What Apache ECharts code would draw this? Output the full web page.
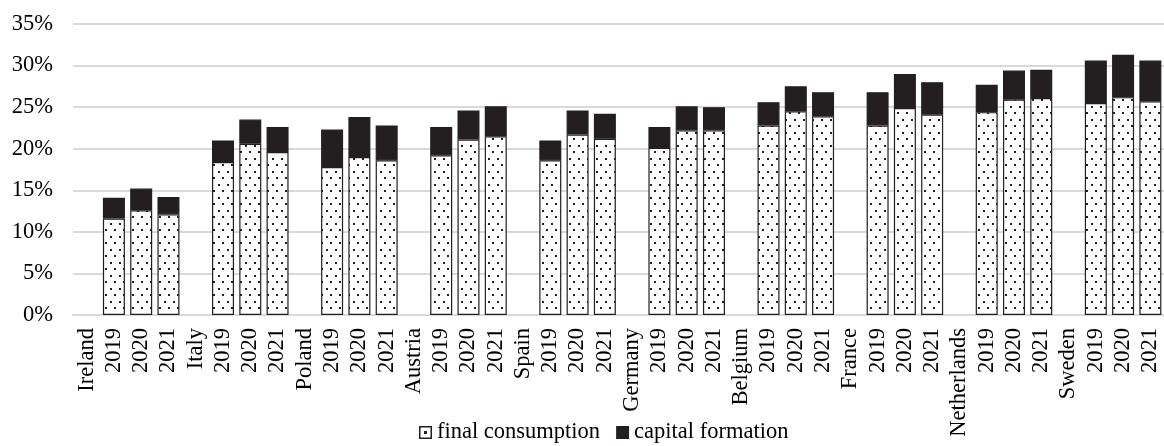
<!DOCTYPE html>
<html>
<head>
    <meta charset="utf-8">
    <title>Final consumption and capital formation</title>
    <script src="https://cdn.jsdelivr.net/npm/echarts@6/dist/echarts.min.js"></script>
</head>
<body style="margin:0">
    <div id="chart" style="width: 1164px; height: 446px;"></div>

    <script>
    // Country header columns carry no bars (null), followed by 2019-2021
    const categories = [
        'Ireland', '2019', '2020', '2021',
        'Italy', '2019', '2020', '2021',
        'Poland', '2019', '2020', '2021',
        'Austria', '2019', '2020', '2021',
        'Spain', '2019', '2020', '2021',
        'Germany', '2019', '2020', '2021',
        'Belgium', '2019', '2020', '2021',
        'France', '2019', '2020', '2021',
        'Netherlands', '2019', '2020', '2021',
        'Sweden', '2019', '2020', '2021'
    ];

    // shares in %
    const finalConsumption = [
        null, 11.6, 12.6, 12.1,
        null, 18.4, 20.6, 19.6,
        null, 17.8, 19.0, 18.6,
        null, 19.2, 21.1, 21.5,
        null, 18.6, 21.7, 21.2,
        null, 20.1, 22.2, 22.2,
        null, 22.8, 24.5, 23.9,
        null, 22.8, 24.9, 24.1,
        null, 24.4, 25.9, 26.1,
        null, 25.5, 26.2, 25.7
    ];

    const capitalFormation = [
        null, 2.5, 2.6, 2.1,
        null, 2.6, 2.9, 3.0,
        null, 4.5, 4.8, 4.2,
        null, 3.4, 3.5, 3.6,
        null, 2.4, 2.9, 3.0,
        null, 2.5, 2.9, 2.8,
        null, 2.8, 3.0, 2.9,
        null, 4.0, 4.1, 3.9,
        null, 3.3, 3.5, 3.4,
        null, 5.1, 5.1, 4.9
    ];

    const yTicks = [0, 5, 10, 15, 20, 25, 30, 35];

    // dotted fill tile
    function dotTile() {
        const c = document.createElement('canvas');
        c.width = 9;
        c.height = 13;
        const ctx = c.getContext('2d');
        ctx.fillStyle = '#ffffff';
        ctx.fillRect(0, 0, 9, 13);
        ctx.fillStyle = '#231f20';
        ctx.fillRect(2, 2, 2, 2);
        ctx.fillRect(6, 8, 2, 2);
        return c;
    }

    const font = '"Liberation Serif", "Times New Roman", serif';
    const fs = 22.5;
    const ink = '#231f20';
    const chart = echarts.init(document.getElementById('chart'));

    const option = {
        animation: false,
        textStyle: { fontFamily: font },
        grid: {
            left: 73,
            right: -5,
            top: 24,
            bottom: 131
        },
        legend: {
            left: 414,
            top: 416,
            itemWidth: 13,
            itemHeight: 13,
            itemGap: 16,
            textStyle: { fontFamily: font, fontSize: fs, color: '#000' },
            data: [
                {
                    name: 'final consumption',
                    // outlined square with a centre dot
                    icon: 'path://M0,0H13V13H0Z M1.5,1.5V11.5H11.5V1.5Z M5,5H8V8H5Z',
                    itemStyle: { color: ink, borderWidth: 0 }
                },
                {
                    name: 'capital formation',
                    icon: 'rect',
                    itemStyle: { color: ink, borderWidth: 0 }
                }
            ]
        },
        xAxis: {
            type: 'category',
            data: categories,
            axisLine: { lineStyle: { color: '#d9d9d9', width: 2 } },
            axisTick: { show: false },
            axisLabel: {
                interval: 0,
                rotate: 90,
                margin: 13,
                fontFamily: font,
                fontSize: fs,
                color: '#000'
            }
        },
        yAxis: {
            type: 'value',
            min: yTicks[0],
            max: yTicks[yTicks.length - 1],
            interval: 5,
            axisLine: { show: false },
            axisTick: { show: false },
            splitLine: { lineStyle: { color: '#d9d9d9', width: 2 } },
            axisLabel: {
                formatter: '{value}%',
                margin: 20,
                fontFamily: font,
                fontSize: fs,
                color: '#000'
            }
        },
        series: [
            {
                name: 'final consumption',
                type: 'bar',
                stack: 'total',
                barWidth: 22,
                data: finalConsumption,
                itemStyle: {
                    color: { image: dotTile(), repeat: 'repeat' },
                    borderColor: ink,
                    borderWidth: 1.2
                }
            },
            {
                name: 'capital formation',
                type: 'bar',
                stack: 'total',
                barWidth: 22,
                data: capitalFormation,
                itemStyle: {
                    color: ink,
                    borderColor: ink,
                    borderWidth: 1.2
                }
            }
        ]
    };

    chart.setOption(option);
    </script>
</body>
</html>
